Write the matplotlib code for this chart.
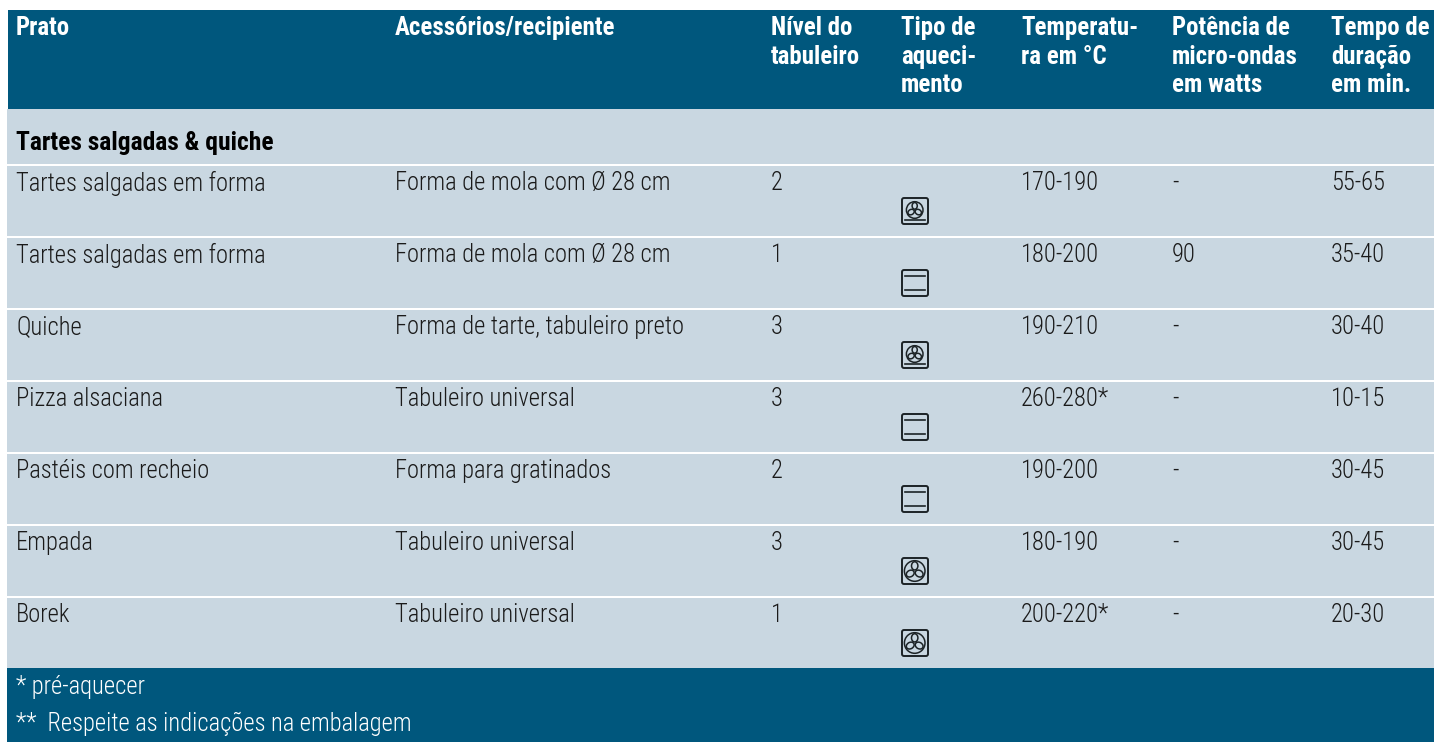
import numpy as np
import matplotlib
matplotlib.use('Agg')
import matplotlib.pyplot as plt
from matplotlib.patches import Rectangle, FancyBboxPatch, Circle, Ellipse
from matplotlib import font_manager

names = {f.name for f in font_manager.fontManager.ttflist}
if 'Roboto Condensed' in names:
    FONT, BODY, HEAD, SECT = 'Roboto Condensed', 17.65, 17.9, 18.4
else:
    FONT, BODY, HEAD, SECT = 'Liberation Sans', 15.5, 15.2, 15.5
matplotlib.rcParams['font.family'] = [FONT, 'DejaVu Sans']

# table content
headers = ['Prato', 'Acessórios/recipiente', 'Nível do\ntabuleiro', 'Tipo de\naqueci-\nmento',
           'Temperatu-\nra em °C', 'Potência de\nmicro-ondas\nem watts', 'Tempo de\nduração\nem min.']
section = 'Tartes salgadas & quiche'
pratos = ['Tartes salgadas em forma', 'Tartes salgadas em forma', 'Quiche', 'Pizza alsaciana',
          'Pastéis com recheio', 'Empada', 'Borek']
acessorios = ['Forma de mola com Ø 28 cm', 'Forma de mola com Ø 28 cm', 'Forma de tarte, tabuleiro preto',
              'Tabuleiro universal', 'Forma para gratinados', 'Tabuleiro universal', 'Tabuleiro universal']
niveis = ['2', '1', '3', '3', '2', '3', '1']
aquecimento = ['fan_grill', 'top_bottom', 'fan_grill', 'top_bottom', 'top_bottom', 'fan', 'fan']
temperaturas = ['170-190', '180-200', '190-210', '260-280*', '190-200', '180-190', '200-220*']
potencias = ['-', '90', '-', '-', '-', '-', '-']
tempos = ['55-65', '35-40', '30-40', '10-15', '30-45', '30-45', '20-30']
notas = ['* pré-aquecer', '**  Respeite as indicações na embalagem']

DARK = '#00577d'
LIGHT = '#c9d7e1'
ICON = '#1c2326'

col_x = [16, 395, 771, 901, 1021, 1172, 1331]
row_h = 72
first_row = 165


def draw_icon(ax, x, y, kind):
    ax.add_patch(FancyBboxPatch((x, y), 26, 26, boxstyle='round,pad=0,rounding_size=2',
                                fc='none', ec=ICON, lw=1.4, zorder=3))
    if kind == 'top_bottom':
        ax.plot([x + 3, x + 23], [y + 5.7, y + 5.7], color=ICON, lw=1.2, zorder=3)
        ax.plot([x + 3, x + 23], [y + 19.7, y + 19.7], color=ICON, lw=1.2, zorder=3)
        return
    grill = kind == 'fan_grill'
    cy = y + (12 if grill else 13)
    r = 8.3 if grill else 10.3
    ax.add_patch(Circle((x + 12.7, cy), r, fc='none', ec=ICON, lw=1.1, zorder=3))
    for ang in [90, 210, 330]:
        d = r * 0.5
        rad = np.deg2rad(ang)
        ax.add_patch(Ellipse((x + 12.7 + d * np.cos(rad), cy - d * np.sin(rad)),
                             r * 0.8, r * 0.62, angle=-ang, fc='none', ec=ICON, lw=1.1, zorder=3))
    if grill:
        ax.plot([x + 3, x + 23], [y + 21.5, y + 21.5], color=ICON, lw=1.2, zorder=3)


fig = plt.figure(figsize=(14.34, 7.42), dpi=100)
ax = fig.add_axes([0, 0, 1, 1])
ax.set_xlim(0, 1434)
ax.set_ylim(742, 0)
ax.axis('off')

# backgrounds
ax.add_patch(Rectangle((8, 10), 1426, 99, fc=DARK, ec='none'))
ax.add_patch(Rectangle((7, 109), 1427, 55, fc=LIGHT, ec='none'))
for i in range(len(pratos)):
    ax.add_patch(Rectangle((7, first_row + i * row_h + 1), 1427, row_h - 2, fc=LIGHT, ec='none'))
footer_top = first_row + len(pratos) * row_h - 1
ax.add_patch(Rectangle((7, footer_top), 1427, 742 - footer_top, fc=DARK, ec='none'))

# header
for x, h in zip(col_x, headers):
    ax.text(x, 16, h, color='white', fontsize=HEAD, fontweight='bold', va='top', ha='left', linespacing=1.25)
ax.text(16, 143, section, color='black', fontsize=SECT, fontweight='bold', va='center', ha='left')

# rows
for i in range(len(pratos)):
    top = first_row + i * row_h
    ty = top + 18
    for x, val in zip([col_x[0], col_x[1], col_x[2], col_x[4], col_x[5], col_x[6]],
                      [pratos[i], acessorios[i], niveis[i], temperaturas[i], potencias[i], tempos[i]]):
        ax.text(x, ty, val, color='#1a1a1a', fontsize=BODY, fontweight='light', va='center', ha='left')
    draw_icon(ax, 902, top + 33, aquecimento[i])

# footer
ax.text(16, footer_top + 19, notas[0], color='white', fontsize=BODY, fontweight='light', va='center', ha='left')
ax.text(16, footer_top + 56, notas[1], color='white', fontsize=BODY, fontweight='light', va='center', ha='left')

fig.savefig('out.png', dpi=100, facecolor='white')
